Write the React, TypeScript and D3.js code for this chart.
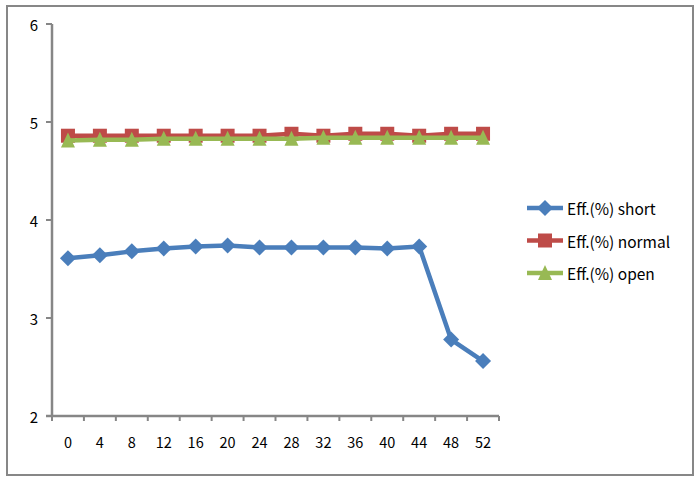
import React from "react";
import * as d3 from "d3";

const categories = ["0", "4", "8", "12", "16", "20", "24", "28", "32", "36", "40", "44", "48", "52"];
const shortValues = [3.61, 3.64, 3.68, 3.71, 3.73, 3.74, 3.72, 3.72, 3.72, 3.72, 3.71, 3.73, 2.78, 2.56];
const normalValues = [4.86, 4.86, 4.86, 4.86, 4.86, 4.86, 4.86, 4.88, 4.86, 4.88, 4.88, 4.86, 4.88, 4.88];
const openValues = [4.81, 4.82, 4.82, 4.83, 4.83, 4.83, 4.83, 4.83, 4.84, 4.84, 4.84, 4.84, 4.84, 4.84];
const yTicks = [2, 3, 4, 5, 6];
const seriesNames = ["Eff.(%) short", "Eff.(%) normal", "Eff.(%) open"];

const W = 699;
const H = 480;
const left = 52;
const right = 499;
const top = 24;
const bottom = 416;
const axisColor = "#868686";
const colors = ["#4a7ebb", "#be4b48", "#98b954"];
const font = "'Noto Sans CJK KR', 'Open Sans', sans-serif";

function Marker({ kind, x, y, color }: { kind: number; x: number; y: number; color: string }) {
  if (kind === 0) {
    const s = 8;
    return <path d={`M${x},${y - s}L${x + s},${y}L${x},${y + s}L${x - s},${y}Z`} fill={color} />;
  }
  if (kind === 1) {
    const s = 7;
    return <rect x={x - s} y={y - s} width={2 * s} height={2 * s} fill={color} />;
  }
  const s = 7;
  return <path d={`M${x},${y - s - 1}L${x + s},${y + s}L${x - s},${y + s}Z`} fill={color} />;
}

export default function App() {
  const x = d3.scaleBand<string>().domain(categories).range([left, right]);
  const y = d3.scaleLinear().domain([2, 6]).range([bottom, top]);
  const cx = (c: string) => (x(c) as number) + x.bandwidth() / 2;
  const series = [shortValues, normalValues, openValues];
  const line = d3
    .line<number>()
    .x((_, i) => cx(categories[i]))
    .y((v) => y(v));
  const boundaries = categories.map((c) => x(c) as number).concat([right]);

  return (
    <svg width={W} height={H} style={{ position: "absolute", left: 0, top: 0, background: "#fff" }}>
      <rect x={7} y={6} width={686} height={469} fill="#fff" stroke="#878787" strokeWidth={2} />
      {/* y axis */}
      <line x1={left} x2={left} y1={top} y2={bottom + 1} stroke={axisColor} strokeWidth={2.5} />
      {yTicks.map((t) => (
        <g key={t}>
          <line x1={left - 6} x2={left} y1={y(t)} y2={y(t)} stroke={axisColor} strokeWidth={2} />
          <text x={38} y={y(t)} fontSize={15} fontFamily={font} textAnchor="end" dominantBaseline="central" fill="#000">
            {t}
          </text>
        </g>
      ))}
      {/* x axis */}
      <line x1={left - 6} x2={right} y1={bottom} y2={bottom} stroke={axisColor} strokeWidth={2.5} />
      {boundaries.map((b, i) => (
        <line key={i} x1={b} x2={b} y1={bottom} y2={bottom + 5} stroke={axisColor} strokeWidth={2} />
      ))}
      {categories.map((c) => (
        <text key={c} x={cx(c)} y={bottom + 25} fontSize={14.5} fontFamily={font} textAnchor="middle" dominantBaseline="central" fill="#000">
          {c}
        </text>
      ))}
      {/* series */}
      {series.map((vals, si) => (
        <g key={si}>
          <path d={line(vals) as string} fill="none" stroke={colors[si]} strokeWidth={4.5} strokeLinejoin="round" />
          {vals.map((v, i) => (
            <Marker key={i} kind={si} x={cx(categories[i])} y={y(v)} color={colors[si]} />
          ))}
        </g>
      ))}
      {/* legend */}
      {seriesNames.map((n, i) => {
        const ly = 208 + i * 32.5;
        return (
          <g key={n}>
            <line x1={527} x2={563} y1={ly} y2={ly} stroke={colors[i]} strokeWidth={4.5} />
            <Marker kind={i} x={545} y={ly} color={colors[i]} />
            <text x={567} y={ly} fontSize={15.5} fontFamily={font} dominantBaseline="central" fill="#000">
              {n}
            </text>
          </g>
        );
      })}
    </svg>
  );
}
